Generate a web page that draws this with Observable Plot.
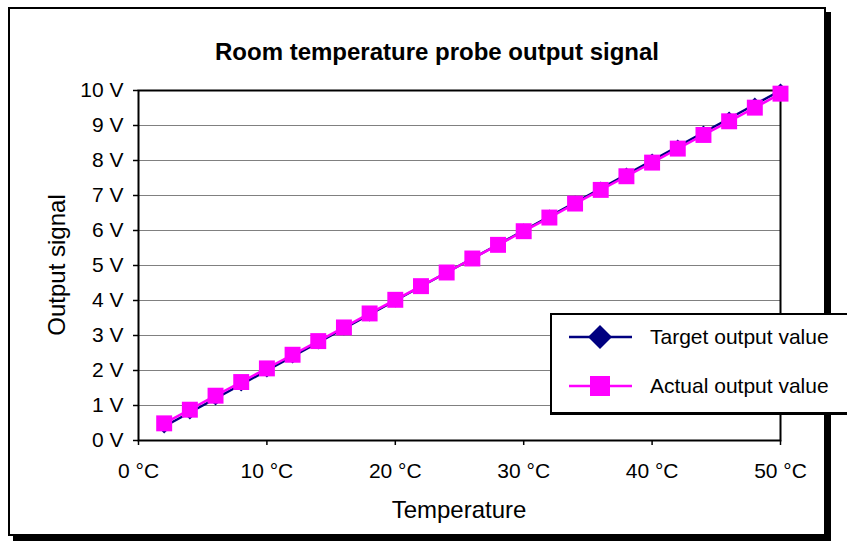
<!DOCTYPE html>
<html>
<head>
<meta charset="utf-8">
<script src="https://cdn.jsdelivr.net/npm/d3@7"></script>
<script src="https://cdn.jsdelivr.net/npm/@observablehq/plot@0.6"></script>
<style>
  html, body { margin: 0; padding: 0; background: #fff; overflow: hidden; }
  #chart { position: relative; width: 847px; height: 541px; overflow: hidden; font-family: "Liberation Sans", Arial, sans-serif; }
  #frame { position: absolute; left: 8px; top: 7px; width: 818px; height: 529px; box-sizing: border-box; border: 2px solid #000; box-shadow: 5px 5px 0 #000; background: #fff; }
  #plot { position: absolute; left: 0; top: 0; }
  .lbl { position: absolute; white-space: nowrap; color: #000; }
  #title { left: 437px; top: 52px; transform: translate(-50%, -50%); font-weight: bold; font-size: 24px; }
  #xlabel { left: 459px; top: 510px; transform: translate(-50%, -50%); font-size: 24px; }
  #ylabel { left: 57px; top: 265px; transform: translate(-50%, -50%) rotate(-90deg); font-size: 24px; }
  #legend { position: absolute; left: 550px; top: 313px; width: 320px; height: 102px; box-sizing: border-box; border-top: 2px solid #000; border-left: 2px solid #000; border-bottom: 3px solid #000; background: #fff; }
</style>
</head>
<body>
<div id="chart">
  <div id="frame"></div>
  <div id="plot"></div>
  <div id="title" class="lbl">Room temperature probe output signal</div>
  <div id="xlabel" class="lbl">Temperature</div>
  <div id="ylabel" class="lbl">Output signal</div>
  <div id="legend"></div>
</div>
<script>
// ---- Data ----
const temperatures = [2, 4, 6, 8, 10, 12, 14, 16, 18, 20, 22, 24, 26, 28, 30, 32, 34, 36, 38, 40, 42, 44, 46, 48, 50];
const targetValues = [0.4, 0.8, 1.2, 1.6, 2.0, 2.4, 2.8, 3.2, 3.6, 4.0, 4.4, 4.8, 5.2, 5.6, 6.0, 6.4, 6.8, 7.2, 7.6, 8.0, 8.4, 8.8, 9.2, 9.6, 10.0];
const actualValues = [0.49, 0.88, 1.28, 1.67, 2.06, 2.45, 2.84, 3.23, 3.63, 4.02, 4.41, 4.80, 5.20, 5.59, 5.98, 6.37, 6.77, 7.16, 7.55, 7.94, 8.34, 8.73, 9.12, 9.51, 9.91];
const seriesNames = ["Target output value", "Actual output value"];
const seriesColors = ["#000080", "#ff00ff"];
const yTicks = [0, 1, 2, 3, 4, 5, 6, 7, 8, 9, 10];
const gridLines = [1, 2, 3, 4, 5, 6, 7, 8, 9];
const xTicks = [0, 10, 20, 30, 40, 50];

const targetRows = temperatures.map((t, i) => ({t, v: targetValues[i]}));
const actualRows = temperatures.map((t, i) => ({t, v: actualValues[i]}));

// Excel-like diamond (equal width and height)
const diamondSym = {
  draw(ctx, size) {
    const r = Math.sqrt(size / 2);
    ctx.moveTo(0, -r); ctx.lineTo(r, 0); ctx.lineTo(0, r); ctx.lineTo(-r, 0); ctx.closePath();
  }
};

const chart = Plot.plot({
  width: 847,
  height: 541,
  marginLeft: 138,
  marginRight: 67,
  marginTop: 90,
  marginBottom: 101,
  x: {domain: [0, 50]},
  y: {domain: [0, 10]},
  style: {fontFamily: '"Liberation Sans", Arial, sans-serif', fontSize: "21px", background: "transparent", color: "#000"},
  marks: [
    Plot.ruleY(gridLines, {stroke: "#808080", strokeWidth: 1, strokeOpacity: 1}),
    Plot.axisY({ticks: yTicks, tickFormat: d => `${d} V`, tickSize: 5, tickPadding: 10, label: null, stroke: "#000", strokeWidth: 1.5}),
    Plot.axisX({ticks: xTicks, tickFormat: d => `${d} °C`, tickSize: 5, tickPadding: 18, label: null, stroke: "#000", strokeWidth: 1.5}),
    Plot.frame({stroke: "#000", strokeWidth: 2}),
    Plot.line(targetRows, {x: "t", y: "v", stroke: seriesColors[0], strokeWidth: 2.5}),
    Plot.dot(targetRows, {x: "t", y: "v", symbol: diamondSym, r: 5.6, fill: seriesColors[0], stroke: null}),
    Plot.line(actualRows, {x: "t", y: "v", stroke: seriesColors[1], strokeWidth: 2.5}),
    Plot.dot(actualRows, {x: "t", y: "v", symbol: "square", r: 9, fill: seriesColors[1], stroke: null})
  ]
});
document.getElementById("plot").appendChild(chart);

// ---- Legend ----
const legend = d3.select("#legend");
const lsvg = legend.append("svg").attr("width", 316).attr("height", 97)
  .style("position", "absolute").style("left", "0").style("top", "0");
const rowsY = [22, 71];
seriesNames.forEach((name, i) => {
  const y = rowsY[i];
  lsvg.append("line").attr("x1", 17).attr("x2", 80).attr("y1", y).attr("y2", y)
    .attr("stroke", seriesColors[i]).attr("stroke-width", 2.5);
  if (i === 0) {
    const r = 12;
    lsvg.append("path").attr("d", `M48,${y - r}L${48 + r},${y}L48,${y + r}L${48 - r},${y}Z`).attr("fill", seriesColors[i]);
  } else {
    lsvg.append("rect").attr("x", 38).attr("y", y - 10).attr("width", 20).attr("height", 20).attr("fill", seriesColors[i]);
  }
  lsvg.append("text").attr("x", 98).attr("y", y).attr("dy", "0.35em")
    .attr("font-family", '"Liberation Sans", Arial, sans-serif').attr("font-size", 21).text(name);
});
</script>
</body>
</html>
